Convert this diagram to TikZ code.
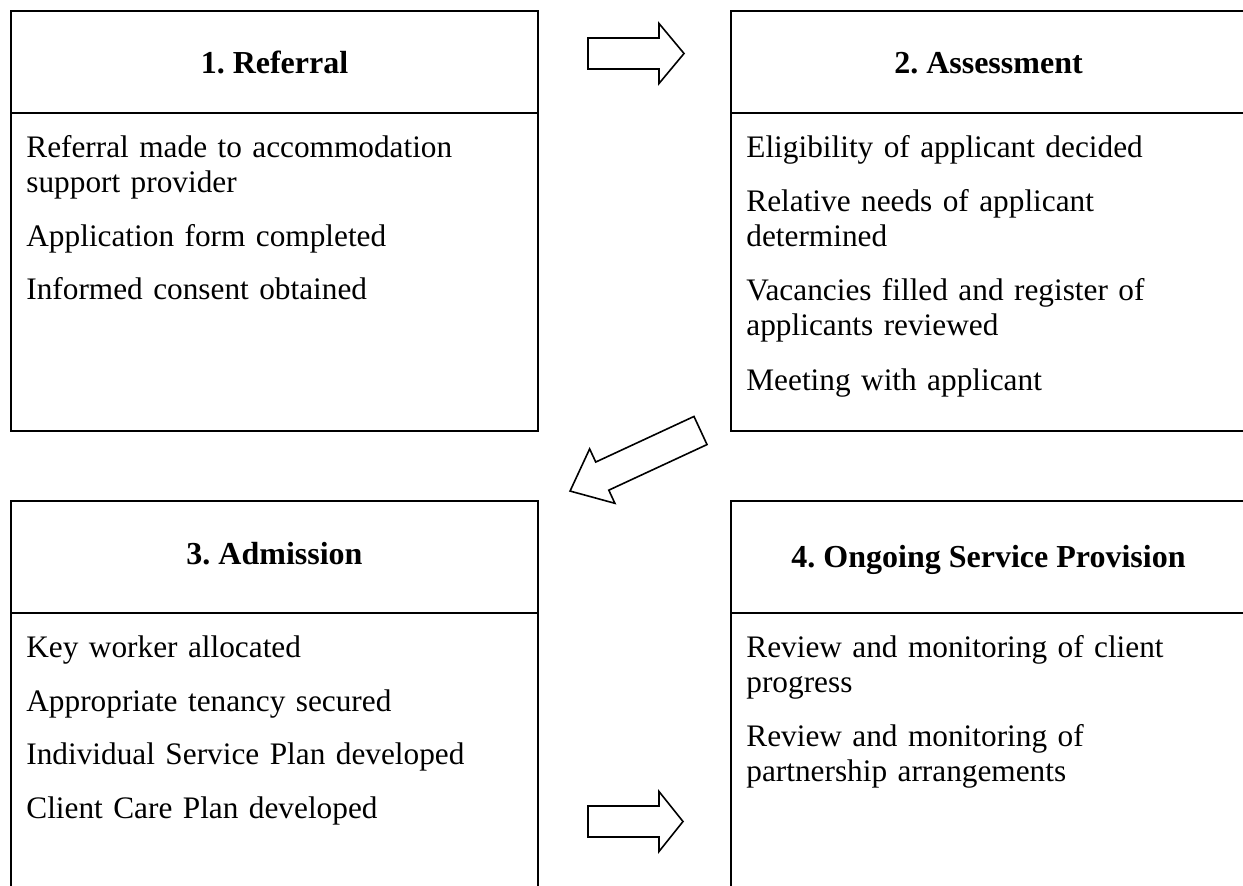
\documentclass[tikz,border=0pt]{standalone}
\usepackage{fontspec}
\setmainfont{Liberation Serif}
\usetikzlibrary{positioning}

\begin{document}
\frenchspacing
\begin{tikzpicture}[x=0.5pt,y=-0.5pt]

      \tikzset{head/.style={draw, line width=1.2pt, minimum width=263.5pt, minimum height=51pt, inner sep=0pt, outer sep=0pt},
               body/.style={draw, line width=1.2pt, minimum width=263.5pt, inner sep=0pt, outer sep=0pt},
               heading/.style={font=\fontsize{16}{19}\selectfont\bfseries, anchor=base, inner sep=0pt},
               items/.style={font=\fontsize{15.65}{17.6}\selectfont, anchor=base west, inner sep=0pt, text width=250pt, align=left},
               pics/blockarrow/.style 2 args={code={\draw[line width=0.8pt] (0,-15.5) -- (#1-#2,-15.5) -- (#1-#2,-30) -- (#1,0) -- (#1-#2,30) -- (#1-#2,15.5) -- (0,15.5) -- cycle;}}}
      \useasboundingbox (0,0) rectangle (1243,885);
      \clip (0,0) rectangle (1243,885);
% Boxes
      	\node[head] (h1) at (274.5,62) {};
      	\node[body, minimum height=159pt, below=0pt of h1] (b1) {};
      	\node[head, minimum width=257.5pt] (h2) at (988.5,62) {};
      	\node[body, minimum width=257.5pt, minimum height=159pt, below=0pt of h2] (b2) {};
      	\node[head, minimum height=56pt] (h3) at (274.5,557) {};
      	\node[body, minimum height=150pt, below=0pt of h3] (b3) {};
      	\node[head, minimum width=257.5pt, minimum height=56pt] (h4) at (988.5,557) {};
      	\node[body, minimum width=257.5pt, minimum height=150pt, below=0pt of h4] (b4) {};
% Titles
      	\node[heading] (t1) at (274.5,73) {1. Referral};
      	\node[heading] (t2) at (988.5,73) {2. Assessment};
      	\node[heading] (t3) at (274.5,564) {3. Admission};
      	\node[heading] (t4) at (988.5,567) {4. Ongoing Service Provision};
% Items
      	\node[items] (l1) at (26,157) {Referral made to accommodation\\support provider\\[9.5pt]Application form completed\\[9pt]Informed consent obtained};
      	\node[items] (l2) at (746,157) {Eligibility of applicant decided\\[9.5pt]Relative needs of applicant\\determined\\[9.5pt]Vacancies filled and register of\\applicants reviewed\\[9.5pt]Meeting with applicant};
      	\node[items] (l3) at (26,657) {Key worker allocated\\[9.5pt]Appropriate tenancy secured\\[9.25pt]Individual Service Plan developed\\[9pt]Client Care Plan developed};
      	\node[items] (l4) at (746,657) {Review and monitoring of client\\progress\\[9.5pt]Review and monitoring of\\partnership arrangements};
%Arrows
		\pic (a1) at (588,53.5) {blockarrow={96}{25}};
		\pic[rotate=204.9] (a2) at (700.5,430.5) {blockarrow={143.8}{35.5}};
		\pic (a3) at (588,821.5) {blockarrow={95}{24}};

	\end{tikzpicture}
\end{document}
